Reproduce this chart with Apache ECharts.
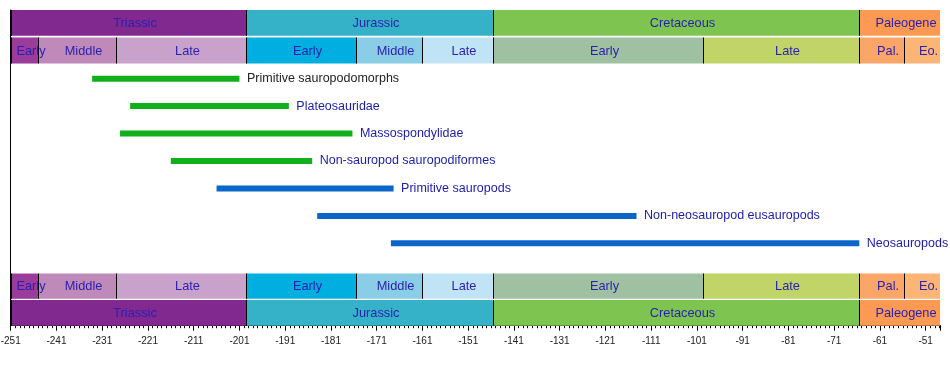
<!DOCTYPE html>
<html><head><meta charset="utf-8">
<script src="https://cdn.jsdelivr.net/npm/echarts@6/dist/echarts.min.js"></script>
<style>html,body{margin:0;padding:0;background:#fff}#c{width:950px;height:375px}</style>
</head><body><div id="c"></div>
<script>
// ---- data (millions of years, negative = ago) ----
const axisStart = -251;
const axisEnd = -47.8;
const periods = ['Triassic', 'Jurassic', 'Cretaceous', 'Paleogene'];
const periodStart = [-251, -199.6, -145.5, -65.5];
const periodEnd = [-199.6, -145.5, -65.5, -47.8];
const epochs = ['Early', 'Middle', 'Late', 'Early', 'Middle', 'Late', 'Early', 'Late', 'Pal.', 'Eo.'];
const epochStart = [-251, -245, -228, -199.6, -175.6, -161.2, -145.5, -99.6, -65.5, -55.8];
const epochEnd = [-245, -228, -199.6, -175.6, -161.2, -145.5, -99.6, -65.5, -55.8, -47.8];
const taxa = ['Primitive sauropodomorphs', 'Plateosauridae', 'Massospondylidae',
  'Non-sauropod sauropodiformes', 'Primitive sauropods', 'Non-neosauropod eusauropods', 'Neosauropods'];
const taxaStart = [-233.2, -224.9, -227.1, -216.0, -206.0, -184.0, -167.9];
const taxaEnd = [-201.0, -190.2, -176.3, -185.1, -167.3, -114.2, -65.5];
const taxaGroup = [0, 0, 0, 0, 1, 1, 1]; // 0 = prosauropod grade (green), 1 = sauropods (blue)

// ---- styles ----
const periodColors = ['#82298f', '#35b2c7', '#7ec451', '#fc9a53'];
const epochColors = ['#9b3b9b', '#bf8ab9', '#c9a2cb', '#00afdf', '#8acde7', '#c0e4f6', '#a0c1a1', '#c0d468', '#fca568', '#fdb575'];
const groupColors = ['#10b01a', '#0a66c8'];
const taxaLabelColors = ['#222222', '#1c1caa', '#1c1caa', '#1c1caa', '#1c1caa', '#1c1caa', '#1c1caa'];
const bandText = '#2a1fae';
const FONT = 'Liberation Sans, Arial, sans-serif';

const sh = v => v - axisStart;

// band rows: [yTop, yBottom] in row units
const bandRows = {
  periodTop: [0, 0.94], epochTop: [1.0, 1.95],
  epochBot: [9.6, 10.52], periodBot: [10.56, 11.5]
};
const bandData = [];
['periodTop', 'periodBot'].forEach(r => periods.forEach((p, i) =>
  bandData.push([sh(periodStart[i]), sh(periodEnd[i]), bandRows[r][0], bandRows[r][1], p, periodColors[i]])));
['epochTop', 'epochBot'].forEach(r => epochs.forEach((p, i) =>
  bandData.push([sh(epochStart[i]), sh(epochEnd[i]), bandRows[r][0], bandRows[r][1], p, epochColors[i]])));

const taxaData = taxa.map((t, i) => [sh(taxaStart[i]), sh(taxaEnd[i]), i + 2.5, t, i]);

const chart = echarts.init(document.getElementById('c'), null, {renderer: 'canvas'});
chart.setOption({
  animation: false,
  grid: {left: 10.7, right: 9.7, top: 10, bottom: 49.3, containLabel: false, outerBoundsMode: 'none'},
  xAxis: {
    type: 'value', min: 0, max: sh(axisEnd), interval: 10, position: 'bottom',
    axisLine: {show: true, onZero: false, lineStyle: {color: '#000', width: 1}},
    axisTick: {show: true, length: 5, lineStyle: {color: '#000'}},
    minorTick: {show: true, splitNumber: 10, length: 2.5, lineStyle: {color: '#000'}},
    splitLine: {show: false},
    axisLabel: {
      show: true, showMaxLabel: false, margin: 10.5, fontSize: 10, color: '#222', fontFamily: FONT,
      formatter: v => String(Math.round(v + axisStart))
    }
  },
  yAxis: {
    type: 'value', min: 0, max: 11.5, inverse: true,
    axisLine: {show: true, onZero: false, lineStyle: {color: '#000', width: 1}},
    axisTick: {show: false}, axisLabel: {show: false}, splitLine: {show: false}
  },
  series: [
    {
      type: 'custom', clip: false,
      data: bandData,
      renderItem: (params, api) => {
        const a = api.coord([api.value(0), api.value(2)]);
        const b = api.coord([api.value(1), api.value(3)]);
        const d = bandData[params.dataIndex];
        const x0 = Math.round(a[0]), x1 = Math.round(b[0]);
        return {
          type: 'group',
          children: [
            {type: 'rect', z2: 0, shape: {x: x0, y: a[1], width: x1 - x0, height: b[1] - a[1]},
             style: {fill: d[5]}},
            {type: 'line', z2: 1, shape: {x1: x0 + 0.5, y1: a[1], x2: x0 + 0.5, y2: b[1]},
             style: {stroke: '#000', lineWidth: 1}},
            {type: 'text', z2: 10, x: (x0 + x1) / 2 + 6.5, y: (a[1] + b[1]) / 2 + 0.5,
             style: {text: d[4], fill: bandText, font: '12.8px ' + FONT, align: 'center', verticalAlign: 'middle'}}
          ]
        };
      }
    },
    {
      type: 'custom', clip: false,
      data: taxaData,
      renderItem: (params, api) => {
        const a = api.coord([api.value(0), api.value(2)]);
        const b = api.coord([api.value(1), api.value(2)]);
        const i = params.dataIndex;
        return {
          type: 'group',
          children: [
            {type: 'rect', shape: {x: a[0], y: a[1] - 3, width: b[0] - a[0], height: 6},
             style: {fill: groupColors[taxaGroup[i]]}},
            {type: 'text', x: b[0] + 7.5, y: a[1],
             style: {text: taxa[i], fill: taxaLabelColors[i], font: '12.5px ' + FONT, align: 'left', verticalAlign: 'middle'}}
          ]
        };
      }
    }
  ]
});
</script>
</body></html>
